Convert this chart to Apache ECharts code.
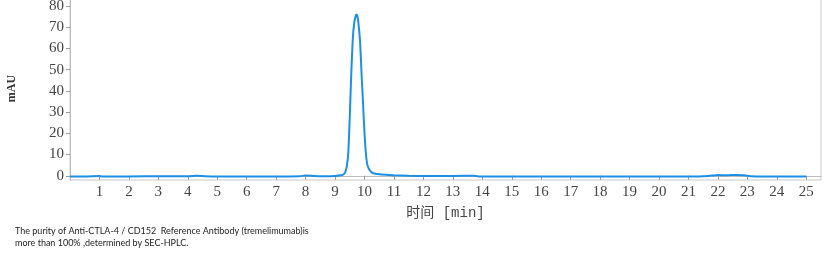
<!DOCTYPE html>
<html>
<head>
<meta charset="utf-8">
<script src="https://cdn.jsdelivr.net/npm/echarts@6/dist/echarts.min.js"></script>
<style>html,body{margin:0;padding:0;background:#fff;}#c{width:827px;height:259px;}</style>
</head>
<body>
<div id="c"></div>
<script>
const timeMin = [0, 0.5, 1, 1.1, 2, 3, 4, 4.3, 4.6, 5, 6, 7, 7.8, 8.0, 8.3, 8.6, 9.0, 9.2, 9.3, 9.35, 9.4, 9.45, 9.5, 9.55, 9.6, 9.65, 9.7, 9.73, 9.76, 9.8, 9.85, 9.9, 9.95, 10.0, 10.05, 10.1, 10.2, 10.3, 10.5, 10.8, 11.0, 11.5, 12, 13, 13.7, 13.9, 14, 15, 16, 17, 18, 19, 20, 21, 21.5, 21.8, 22, 22.3, 22.6, 22.9, 23.1, 23.5, 24, 24.5, 25];
const absorbance = [-0.3, -0.3, -0.1, -0.3, -0.3, -0.2, -0.2, 0.0, -0.2, -0.3, -0.3, -0.3, -0.2, 0.1, -0.1, -0.2, -0.1, 0.2, 0.8, 1.8, 4.5, 11, 28, 48, 64, 72, 75.3, 76, 75.2, 71, 63, 48, 34, 20, 10, 5, 2.2, 1.2, 0.7, 0.4, 0.2, 0.0, -0.1, -0.1, 0.0, -0.3, -0.4, -0.4, -0.4, -0.4, -0.4, -0.4, -0.4, -0.4, -0.2, 0.1, 0.3, 0.2, 0.4, 0.2, -0.2, -0.4, -0.4, -0.4, -0.4];
const xTickLabels = [1,2,3,4,5,6,7,8,9,10,11,12,13,14,15,16,17,18,19,20,21,22,23,24,25];
const yTickLabels = [0,10,20,30,40,50,60,70,80];
const captionLines = ["The purity of Anti-CTLA-4 / CD152  Reference Antibody (tremelimumab)is", "more than 100% ,determined by SEC-HPLC."];

const chart = echarts.init(document.getElementById('c'), null, {renderer: 'canvas'});
const serif = '"Liberation Serif", "DejaVu Serif", serif';
chart.setOption({
  animation: false,
  backgroundColor: '#fff',
  grid: {left: 70, right: 6, top: -3, height: 183, show: true, borderColor: '#c8c8c8', borderWidth: 1, containLabel: false, outerBoundsMode: 'none'},
  xAxis: {
    type: 'value', min: 0, max: 25.5,
    name: '时间 [min]', nameLocation: 'middle', nameGap: 26,
    nameTextStyle: {fontFamily: '"Liberation Mono", "Noto Sans CJK SC", monospace', fontSize: 14, color: '#444'},
    axisLine: {show: true, lineStyle: {color: '#bdbdbd', width: 1}},
    axisTick: {show: true, length: 4, lineStyle: {color: '#999'}, customValues: xTickLabels},
    axisLabel: {customValues: xTickLabels, fontFamily: serif, fontSize: 15, color: '#444', margin: 5},
    splitLine: {show: false}
  },
  yAxis: {
    type: 'value', min: -2, max: 84.2,
    name: 'mAU', nameLocation: 'middle', nameGap: 52, nameRotate: 90,
    nameTextStyle: {fontFamily: serif, fontSize: 12, fontWeight: 'bold', color: '#333'},
    axisLine: {show: true, lineStyle: {color: '#bdbdbd', width: 1}},
    axisTick: {show: true, length: 4, lineStyle: {color: '#999'}, customValues: yTickLabels},
    axisLabel: {customValues: yTickLabels, fontFamily: serif, fontSize: 15, color: '#444', margin: 6},
    splitLine: {show: false}
  },
  series: [{
    type: 'line',
    data: timeMin.map((t, i) => [t, absorbance[i]]),
    showSymbol: false,
    smooth: 0.2,
    lineStyle: {color: '#1e8fe6', width: 2},
    itemStyle: {color: '#1e8fe6'}
  }],
  graphic: captionLines.map((s, i) => ({
    type: 'text', left: 15, top: 227 + i * 12,
    style: {text: s, font: '9px Lato, "Liberation Sans", sans-serif', fill: '#222'}
  }))
});
</script>
</body>
</html>
